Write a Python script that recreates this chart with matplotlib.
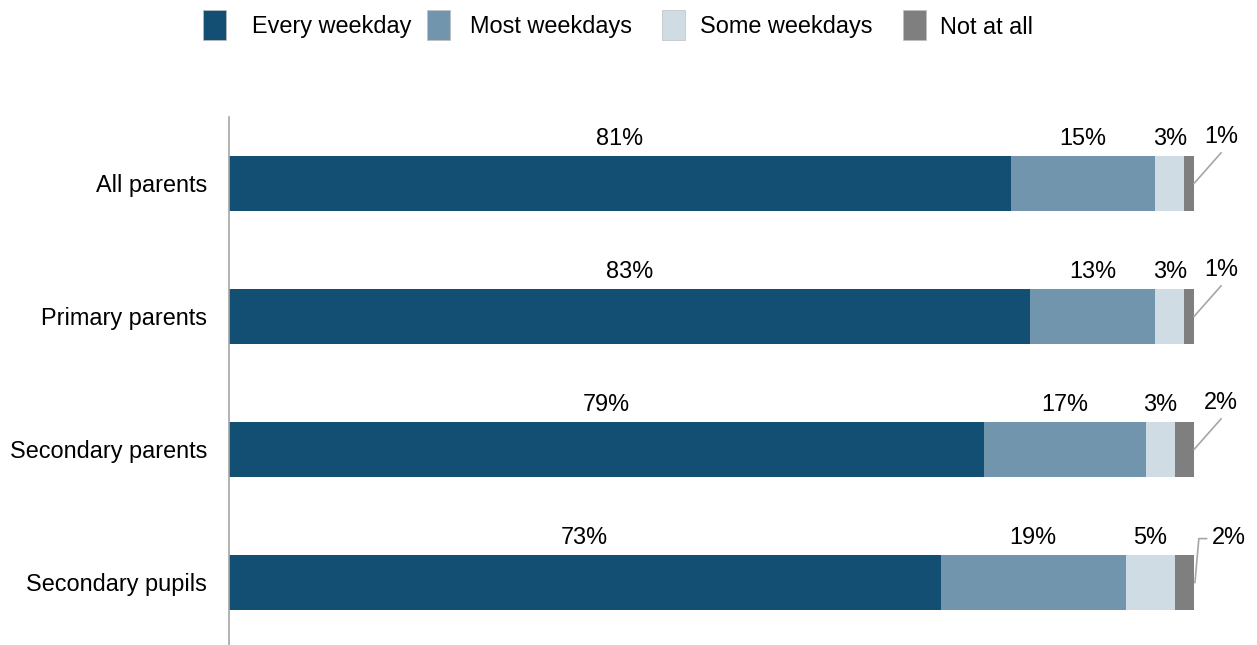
import matplotlib
matplotlib.use("Agg")
import matplotlib.pyplot as plt
from matplotlib.patches import Rectangle
import numpy as np

plt.rcParams['font.family'] = ['Liberation Sans', 'DejaVu Sans']

categories = ["All parents", "Primary parents", "Secondary parents", "Secondary pupils"]
series_names = ["Every weekday", "Most weekdays", "Some weekdays", "Not at all"]
every_weekday = [81, 83, 79, 73]
most_weekdays = [15, 13, 17, 19]
some_weekdays = [3, 3, 3, 5]
not_at_all = [1, 1, 2, 2]
colors = ["#134f73", "#7295ae", "#cfdce4", "#7f7f7f"]

series = [every_weekday, most_weekdays, some_weekdays, not_at_all]
data = np.array(series, dtype=float)
totals = data.sum(axis=0)
shares = data / totals  # 100% stacked

W, H, DPI = 1257, 645, 100
fig = plt.figure(figsize=(W / DPI, H / DPI), dpi=DPI)
ax_left, ax_right = 229 / W, 1194 / W
ax_top, ax_bottom = 117 / H, 645 / H
ax = fig.add_axes([ax_left, 1 - ax_bottom, ax_right - ax_left, ax_bottom - ax_top])

FS = 16.9
bar_h = 0.42
y = np.arange(len(categories))
left = np.zeros(len(categories))
for k, (name, vals) in enumerate(zip(series_names, shares)):
    ax.barh(y, vals, left=left, height=bar_h, color=colors[k], edgecolor='none', label=name)
    for i in range(len(categories)):
        lbl = f"{int(series[k][i])}%"
        if k < 3:
            ax.text(left[i] + vals[i] / 2, y[i] - bar_h / 2 - 0.128, lbl,
                    ha='center', va='center', fontsize=FS, color='#000000')
        else:
            if i < 3:
                tx, ty = 1.028, y[i] - 0.35
                ax.plot([1.0, 1.028], [y[i], y[i] - 0.23], color='#a6a6a6', lw=1.2,
                        clip_on=False)
            else:
                tx, ty = 1.036, y[i] - 0.338
                ax.plot([1.001, 1.005, 1.013], [y[i], y[i] - 0.33, y[i] - 0.33],
                        color='#a6a6a6', lw=1.2, clip_on=False)
            ax.text(tx, ty, lbl, ha='center', va='center', fontsize=FS, color='#000000',
                    clip_on=False)
    left += vals

ax.set_xlim(0, 1)
ax.set_ylim(3.47, -0.5)
ax.set_yticks(y)
ax.set_yticklabels(categories, fontsize=FS)
ax.tick_params(axis='y', length=0, pad=15.8)
ax.set_xticks([])
for s in ['top', 'right', 'bottom']:
    ax.spines[s].set_visible(False)
ax.spines['left'].set_color('#a6a6a6')
ax.spines['left'].set_linewidth(1.2)

# Legend drawn manually (pixel layout of the reference)
sq_x = [203, 427, 662, 903]
tx_x = [252, 470, 700, 940]
for c, name, sx, txx in zip(colors, series_names, sq_x, tx_x):
    fig.patches.append(Rectangle((sx / W, 1 - 40 / H), 23 / W, 30 / H,
                                 transform=fig.transFigure, facecolor=c,
                                 edgecolor='#bfbfbf', linewidth=0.5))
    fig.text(txx / W, 1 - 27 / H, name, ha='left', va='center', fontsize=FS,
             color='#000000')

fig.savefig("out.png", dpi=DPI)
